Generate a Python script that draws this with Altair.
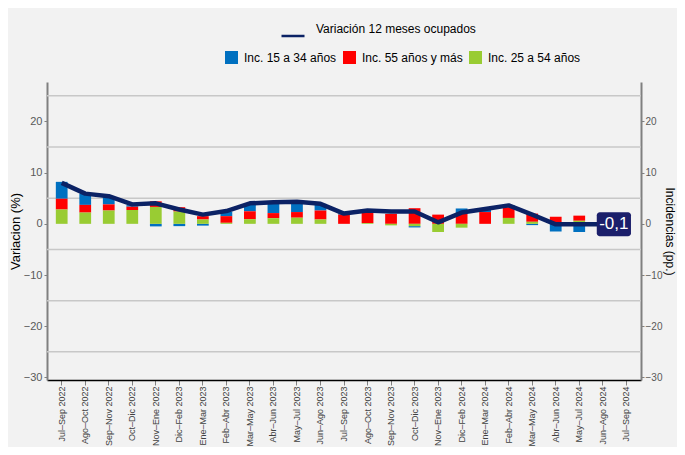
import altair as alt
import pandas as pd

periodos = [
    "Jul–Sep 2022", "Ago–Oct 2022", "Sep–Nov 2022", "Oct–Dic 2022", "Nov–Ene 2022",
    "Dic–Feb 2023", "Ene–Mar 2023", "Feb–Abr 2023", "Mar–May 2023", "Abr–Jun 2023",
    "May–Jul 2023", "Jun–Ago 2023", "Jul–Sep 2023", "Ago–Oct 2023", "Sep–Nov 2023",
    "Oct–Dic 2023", "Nov–Ene 2023", "Dic–Feb 2024", "Ene–Mar 2024", "Feb–Abr 2024",
    "Mar–May 2024", "Abr–Jun 2024", "May–Jul 2024", "Jun–Ago 2024", "Jul–Sep 2024",
]
variacion = [8.0, 5.9, 5.4, 3.8, 4.0, 2.8, 1.8, 2.5, 4.0, 4.2, 4.3, 3.9, 2.0, 2.6, 2.4,
             2.4, 0.3, 2.2, 2.9, 3.6, 1.8, -0.1, -0.1, -0.1, None]
inc_15_34 = [3.3, 2.2, 1.4, 0.3, -0.5, -0.45, -0.35, 0.85, 1.5, 2.0, 1.95, 1.3, 0.2, 0.0, 0.0,
             -0.25, 0.0, 1.0, 0.6, 0.4, -0.25, -1.5, -1.6, None, None]
inc_55_mas = [2.1, 1.5, 1.2, 0.65, 1.1, 0.85, 0.65, 1.3, 1.55, 1.0, 1.1, 1.75, 1.8, 2.15, 1.95,
              3.05, 1.8, 2.0, 2.3, 2.1, 1.6, 1.4, 1.0, None, None]
inc_25_54 = [2.8, 2.2, 2.6, 2.7, 3.3, 2.4, 0.85, 0.2, 0.9, 1.1, 1.2, 0.85, 0.0, 0.15, -0.3,
             -0.45, -1.6, -0.75, 0.0, 1.15, 0.4, 0.0, 0.6, None, None]

series_names = ["Inc. 15 a 34 años", "Inc. 55 años y más", "Inc. 25 a 54 años"]
series_colors = ["#0070C0", "#FF0000", "#99CC33"]
stack_order = [2, 1, 0]
line_name = "Variación 12 meses ocupados"
gridlines = [25, 15, 5, -5, -15, -25]
y_ticks = [20, 10, 0, -10, -20, -30]
y_domain = [-30.5, 27.7]

rows = []
for name, vals, o in zip(series_names, [inc_15_34, inc_55_mas, inc_25_54], stack_order):
    for p, v in zip(periodos, vals):
        if v is not None:
            rows.append({"periodo": p, "serie": name, "valor": v, "orden": o})
bars_df = pd.DataFrame(rows)

line_df = pd.DataFrame({"periodo": periodos, "variacion": variacion})
line_df = line_df.dropna()
line_df["leyenda"] = line_name
last_df = line_df.iloc[[-1]].copy()
last_df["etiqueta"] = last_df["variacion"].map(lambda v: f"{v:.1f}".replace(".", ","))

FONT = "Liberation Sans"
yscale = alt.Scale(domain=y_domain, nice=False, zero=False)
xenc = alt.X(
    "periodo:N", sort=periodos,
    scale=alt.Scale(domain=periodos, paddingInner=0.5, paddingOuter=0.375),
    axis=alt.Axis(title=None, labelAngle=-90, labelFontSize=9, labelColor="#404040",
                  labelFont=FONT, tickColor="#808080", tickSize=5, domainColor="#000000",
                  domainWidth=1.5, labelPadding=1),
)

grid = alt.Chart(pd.DataFrame({"g": gridlines})).mark_rule(color="#C8C8C8", strokeWidth=1.5).encode(
    y=alt.Y("g:Q", scale=yscale, axis=None)
)

bars = alt.Chart(bars_df).mark_bar().encode(
    x=xenc,
    y=alt.Y("valor:Q", stack="zero", scale=yscale,
            axis=alt.Axis(orient="right", title="Incidencias (pp.)", values=y_ticks, grid=False,
                          labelFontSize=10, labelColor="#595959", labelFont=FONT,
                          tickColor="#808080", tickSize=3, domainColor="#808080", domainWidth=2,
                          titleFont=FONT, titleFontSize=12, titleFontWeight="normal",
                          titleColor="#000000", titlePadding=1, labelPadding=1)),
    color=alt.Color("serie:N", scale=alt.Scale(domain=series_names, range=series_colors),
                    legend=alt.Legend(orient="none", legendX=178, legendY=-31, direction="horizontal",
                                      title=None, symbolType="square", symbolSize=169,
                                      symbolStrokeWidth=0, labelFontSize=12, labelFont=FONT,
                                      labelColor="#000000", columnPadding=6, labelOffset=6,
                                      labelLimit=300)),
    order=alt.Order("orden:Q", sort="ascending"),
)

line = alt.Chart(line_df).mark_line(strokeWidth=4.5, strokeJoin="round").encode(
    x=alt.X("periodo:N", sort=periodos),
    y=alt.Y("variacion:Q", scale=yscale,
            axis=alt.Axis(orient="left", title="Variacion (%)", values=y_ticks, grid=False,
                          labelFontSize=11, labelColor="#595959", labelFont=FONT,
                          tickColor="#808080", tickSize=3, domainColor="#808080", domainWidth=2,
                          titleFont=FONT, titleFontSize=13, titleFontWeight="normal",
                          titleColor="#000000", titlePadding=1, labelPadding=2)),
    stroke=alt.Stroke("leyenda:N", scale=alt.Scale(range=["#0B2265"]),
                      legend=alt.Legend(orient="none", legendX=233, legendY=-59, title=None,
                                        symbolType="stroke", symbolSize=529, symbolStrokeWidth=2.5,
                                        labelFontSize=12, labelFont=FONT, labelColor="#000000",
                                        labelBaseline="bottom", labelOffset=10, labelLimit=400)),
)

box_path = ("M-0.25,-1 H2.1 A0.25,0.25 0 0 1 2.35,-0.75 V0.75 A0.25,0.25 0 0 1 2.1,1 "
            "H-0.25 A0.25,0.25 0 0 1 -0.5,0.75 V-0.75 A0.25,0.25 0 0 1 -0.25,-1 Z")
box = alt.Chart(last_df).mark_point(shape=box_path, size=576, filled=True, fill="#1B1F6B",
                                    opacity=1, strokeWidth=0).encode(
    x=alt.X("periodo:N", sort=periodos),
    y=alt.Y("variacion:Q", scale=yscale, axis=None),
)
label = alt.Chart(last_df).mark_text(color="white", fontSize=17, font=FONT, dx=11, dy=0,
                                     baseline="middle", align="center").encode(
    x=alt.X("periodo:N", sort=periodos),
    y=alt.Y("variacion:Q", scale=yscale, axis=None),
    text="etiqueta:N",
)

chart = alt.layer(grid, bars, line, box, label).resolve_axis(y="independent").properties(
    width=594, height=298,
    autosize=alt.AutoSizeParams(type="none"),
    padding={"left": 39, "top": 74, "right": 36, "bottom": 67},
    background="#F2F2F2",
).configure_view(stroke=None, fill="#F2F2F2")

chart.save("out.html", embed_options={"renderer": "svg", "actions": False})
